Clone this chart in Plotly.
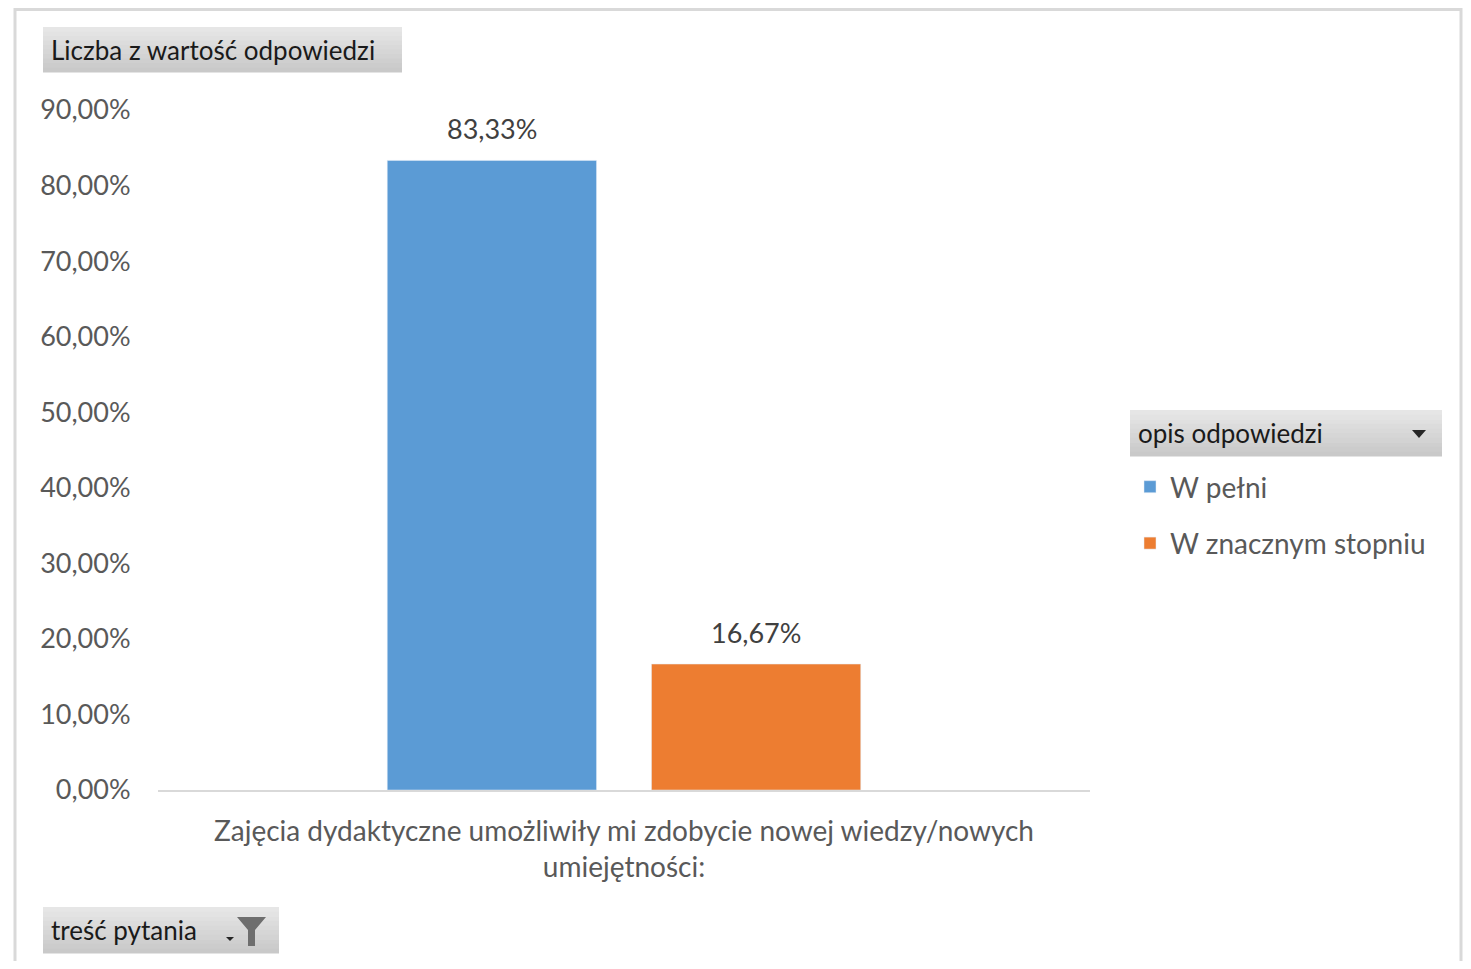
import plotly.graph_objects as go

categories = ["Zajęcia dydaktyczne umożliwiły mi zdobycie nowej wiedzy/nowych<br>umiejętności:"]
series_names = ["W pełni", "W znacznym stopniu"]
series_values = [[0.8333], [0.1667]]
series_colors = ["#5b9bd5", "#ed7d31"]
y_ticks = [0, 0.1, 0.2, 0.3, 0.4, 0.5, 0.6, 0.7, 0.8, 0.9]

# page has an 8px body margin; work in screen pixels and subtract it
OFF = 8
W, H = 1471 - 2 * OFF, 969 - 2 * OFF
L, R, T, B = 158 - OFF, 1090 - OFF, 110 - OFF, 790 - OFF

def px(x):
    return (x - OFF - L) / (R - L)

def py(y):
    return (B - (y - OFF)) / (B - T)

FONT = "Lato"
BARGAP, BARGROUPGAP = 0.433, 0.208

fig = go.Figure()
n = len(series_names)
annotations = []
for i, (name, vals) in enumerate(zip(series_names, series_values)):
    fig.add_trace(go.Bar(
        x=categories, y=vals, name=name, marker_color=series_colors[i],
        legendgroup=name,
    ))
    off = (i - (n - 1) / 2) * (1 - BARGAP) / n
    for j, v in enumerate(vals):
        annotations.append(dict(
            x=j + off, y=v, xref="x", yref="y", text=f"{v * 100:.2f}%".replace(".", ","),
            showarrow=False, yanchor="middle", yshift=32,
            font=dict(size=27, color="#404040", family=FONT)))

shapes = [
    dict(type="rect", xref="paper", yref="paper", x0=px(15), x1=px(1461), y0=py(9.5), y1=py(1000),
         line=dict(color="#d9d9d9", width=3), fillcolor="rgba(0,0,0,0)", layer="below"),
]

def grad_box(x0, y0, x1, y1, steps=10):
    top, bot = 0xE6, 0xC9
    h = (y1 - y0) / steps
    for k in range(steps):
        c = round(top + (bot - top) * k / (steps - 1))
        shapes.append(dict(type="rect", xref="paper", yref="paper",
                           x0=px(x0), x1=px(x1), y0=py(y0 + k * h), y1=py(y0 + (k + 1) * h + 0.5),
                           line=dict(width=0), fillcolor=f"rgb({c},{c},{c})", layer="below"))

grad_box(43, 27, 402, 72)
grad_box(43, 907, 279, 953)
grad_box(1130, 410, 1442, 456)

def path(points):
    return "M " + " L ".join(f"{px(a)},{py(b)}" for a, b in points) + " Z"

shapes.append(dict(type="path", xref="paper", yref="paper",
                   path=path([(1412, 430), (1426, 430), (1419, 438)]),
                   fillcolor="#262626", line=dict(width=0)))
shapes.append(dict(type="path", xref="paper", yref="paper",
                   path=path([(226, 937), (234, 937), (230, 941)]),
                   fillcolor="#262626", line=dict(width=0)))
shapes.append(dict(type="path", xref="paper", yref="paper",
                   path=path([(237, 917), (266, 917), (255, 930), (255, 946), (248, 946), (248, 930)]),
                   fillcolor="#6e6e6e", line=dict(width=0)))

annotations += [
    dict(text="Liczba z wartość odpowiedzi", xref="paper", yref="paper", x=px(49), y=py(50),
         xanchor="left", yanchor="middle", showarrow=False,
         font=dict(size=26, color="#1a1a1a", family=FONT)),
    dict(text="treść pytania", xref="paper", yref="paper", x=px(49), y=py(930),
         xanchor="left", yanchor="middle", showarrow=False,
         font=dict(size=26, color="#1a1a1a", family=FONT)),
    dict(text="opis odpowiedzi", xref="paper", yref="paper", x=px(1136), y=py(433),
         xanchor="left", yanchor="middle", showarrow=False,
         font=dict(size=26, color="#1a1a1a", family=FONT)),
]

fig.update_layout(
    width=W, height=H,
    margin=dict(l=L, r=W - R, t=T, b=H - B),
    paper_bgcolor="white", plot_bgcolor="white",
    separators=", ",
    barmode="group", bargap=BARGAP, bargroupgap=BARGROUPGAP,
    font=dict(family=FONT, color="#595959", size=27),
    shapes=shapes, annotations=annotations,
    showlegend=True,
    legend=dict(x=px(1130), y=py(462), xanchor="left", yanchor="top",
                font=dict(size=28, color="#595959", family=FONT),
                traceorder="grouped", tracegroupgap=17, itemwidth=30,
                bgcolor="rgba(0,0,0,0)"),
    xaxis=dict(showline=True, linecolor="#d9d9d9", linewidth=2,
               ticks="outside", ticklen=15, tickcolor="rgba(0,0,0,0)",
               tickfont=dict(size=28, color="#595959", family=FONT),
               showgrid=False, fixedrange=True),
    yaxis=dict(range=[0, 0.9], tickvals=y_ticks, tickformat=".2%",
               showgrid=False, zeroline=False, showline=False,
               ticks="outside", ticklen=21, tickcolor="rgba(0,0,0,0)",
               tickfont=dict(size=27, color="#595959", family=FONT)),
)

fig.write_html("out.html")
